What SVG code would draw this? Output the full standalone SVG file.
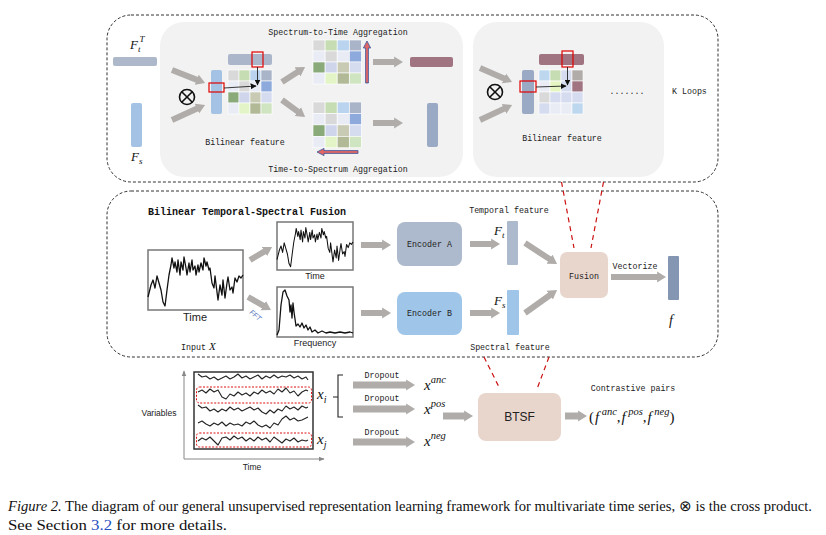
<svg xmlns="http://www.w3.org/2000/svg" xmlns:xlink="http://www.w3.org/1999/xlink" width="826" height="535" viewBox="0 0 826 535">
<style>
.mono{font-family:"Liberation Mono","DejaVu Sans Mono",monospace;font-size:8.3px;fill:#222}
.sans{font-family:"Liberation Sans",Arial,sans-serif;fill:#222}
.math{font-family:"Liberation Serif","Times New Roman",serif;font-style:italic;fill:#111}
.dash{fill:none;stroke:#333;stroke-width:1;stroke-dasharray:3 2}
.panel{fill:#f2f2f2}
.fat{stroke:#b0acaa;stroke-width:6;fill:none;marker-end:url(#fatHead)}
.thin{stroke:#222;stroke-width:0.9;fill:none;marker-end:url(#thinHead)}
.red{fill:none;stroke:#e00000;stroke-width:1.2}
.rdash{stroke:#cc1111;stroke-width:1.2;stroke-dasharray:5 4;fill:none}
.wave{fill:none;stroke:#111;stroke-width:1.3;stroke-linejoin:round}
.ser{fill:none;stroke:#222;stroke-width:1.1;stroke-linejoin:round}
.plot{fill:#fff;stroke:#777;stroke-width:1.5}
.cell{stroke:#fff;stroke-width:0.6}
</style>
<defs>
<marker id="fatHead" markerUnits="userSpaceOnUse" viewBox="0 0 10 12" markerWidth="9" markerHeight="12" refX="1" refY="6" orient="auto"><path d="M0,0 L10,6 L0,12 z" fill="#b0acaa"/></marker>
<marker id="thinHead" markerUnits="userSpaceOnUse" viewBox="0 0 10 10" markerWidth="6" markerHeight="6" refX="9" refY="5" orient="auto"><path d="M0,0 L10,5 L0,10 z" fill="#111"/></marker>
<marker id="axHead" markerUnits="userSpaceOnUse" viewBox="0 0 10 10" markerWidth="6" markerHeight="6" refX="9" refY="5" orient="auto"><path d="M0,1 L10,5 L0,9 z" fill="#888"/></marker>
<g id="matA">
<rect class="cell" x="0" y="0" width="11" height="11" fill="#d9d9d9"/><rect class="cell" x="11" y="0" width="11" height="11" fill="#c6dcb2"/><rect class="cell" x="22" y="0" width="11" height="11" fill="#bad3ee"/><rect class="cell" x="33" y="0" width="11" height="11" fill="#aab4c8"/>
<rect class="cell" x="0" y="11" width="11" height="11" fill="#e9ebf5"/><rect class="cell" x="11" y="11" width="11" height="11" fill="#d9d9d9"/><rect class="cell" x="22" y="11" width="11" height="11" fill="#e9ebf5"/><rect class="cell" x="33" y="11" width="11" height="11" fill="#8eaadc"/>
<rect class="cell" x="0" y="22" width="11" height="11" fill="#8aaa7a"/><rect class="cell" x="11" y="22" width="11" height="11" fill="#cfd6ec"/><rect class="cell" x="22" y="22" width="11" height="11" fill="#c9cab4"/><rect class="cell" x="33" y="22" width="11" height="11" fill="#d6dcef"/>
<rect class="cell" x="0" y="33" width="11" height="11" fill="#e9ebf5"/><rect class="cell" x="11" y="33" width="11" height="11" fill="#e3f5c6"/><rect class="cell" x="22" y="33" width="11" height="11" fill="#b1b997"/><rect class="cell" x="33" y="33" width="11" height="11" fill="#cfe4c0"/>
</g>
<g id="matB">
<rect class="cell" x="0" y="0" width="11" height="11" fill="#bdd7ee"/><rect class="cell" x="11" y="0" width="11" height="11" fill="#c6dcb2"/><rect class="cell" x="22" y="0" width="11" height="11" fill="#d6dcef"/><rect class="cell" x="33" y="0" width="11" height="11" fill="#b1aca9"/>
<rect class="cell" x="0" y="11" width="11" height="11" fill="#e9ebf5"/><rect class="cell" x="11" y="11" width="11" height="11" fill="#e6f6c2"/><rect class="cell" x="22" y="11" width="11" height="11" fill="#d6dcef"/><rect class="cell" x="33" y="11" width="11" height="11" fill="#a07480"/>
<rect class="cell" x="0" y="22" width="11" height="11" fill="#d9d9d9"/><rect class="cell" x="11" y="22" width="11" height="11" fill="#d6dcef"/><rect class="cell" x="22" y="22" width="11" height="11" fill="#d6dcef"/><rect class="cell" x="33" y="22" width="11" height="11" fill="#d6dcef"/>
<rect class="cell" x="0" y="33" width="11" height="11" fill="#d6dcef"/><rect class="cell" x="11" y="33" width="11" height="11" fill="#e9ebf5"/><rect class="cell" x="22" y="33" width="11" height="11" fill="#e9ebf5"/><rect class="cell" x="33" y="33" width="11" height="11" fill="#bdd7ee"/>
</g>
<g id="otimes"><circle cx="0" cy="0" r="7.5" fill="none" stroke="#111" stroke-width="1.6"/><path d="M-5.3,-5.3 L5.3,5.3 M5.3,-5.3 L-5.3,5.3" stroke="#111" stroke-width="1.6"/></g>
<polyline id="sig" points="148,297 151,285 153,280 155,288 157,276 159,283 161,290 163,302 165,306 167,290 169,275 171,265 172,258 174,268 175,262 177,272 178,260 180,275 181,262 183,270 184,257 186,268 187,275 189,263 190,272 192,260 193,270 195,266 196,275 198,265 199,272 201,263 203,270 204,258 206,266 207,262 209,270 210,268 212,283 214,288 215,276 217,292 218,300 220,285 222,295 223,280 225,298 227,283 228,277 230,290 232,287 233,293 235,278 237,282 239,276 241,278 243,275"/>
</defs>

<!-- Background containers -->
<g id="loop-container">
<rect class="dash" x="107" y="15" width="611" height="167" rx="24"/>
<rect class="panel" x="160" y="22" width="303" height="155" rx="24"/>
<rect class="panel" x="473" y="22" width="191" height="155" rx="24"/>
</g>
<g id="fusion-container">
<rect class="dash" x="107" y="191" width="611" height="166" rx="24"/>
<text x="148" y="215" style="font-family:'Liberation Mono','DejaVu Sans Mono',monospace;font-size:10px;font-weight:bold;fill:#111">Bilinear Temporal-Spectral Fusion</text>
</g>

<!-- Top loop nodes -->
<g id="ft-transpose">
<rect x="113" y="57" width="44" height="9" rx="2" fill="#adb8ca"/>
<text class="math" x="130" y="49" font-size="13">F<tspan font-size="9" dy="3">t</tspan><tspan font-size="9" dx="-1" dy="-10">T</tspan></text>
</g>
<g id="fs-input">
<rect x="131" y="103" width="11" height="44" rx="2" fill="#a4c2e4"/>
<text class="math" x="131" y="161" font-size="13">F<tspan font-size="9" dy="3">s</tspan></text>
</g>
<g id="cross-1"><use xlink:href="#otimes" x="187" y="97"/></g>
<g id="bilinear-1">
<rect x="211" y="70" width="11" height="44" rx="2" fill="#a4c2e4"/>
<rect x="228" y="54" width="44" height="11" rx="2" fill="#acb6ca"/>
<use xlink:href="#matA" x="228" y="70"/>
<rect class="red" x="252" y="52" width="11" height="15"/>
<rect class="red" x="209" y="83" width="15" height="9"/>
<text class="mono" x="245" y="145" text-anchor="middle">Bilinear feature</text>
</g>
<g id="spectrum-to-time">
<text class="mono" x="338" y="35" text-anchor="middle">Spectrum-to-Time Aggregation</text>
<use xlink:href="#matA" transform="translate(313,40) scale(1.1,1)"/>
<path d="M365.6,83 L368.4,83 L368.4,48 L370.6,48 L367,41 L363.4,48 L365.6,48 z" fill="#e06666" stroke="#33549a" stroke-width="0.8"/>
</g>
<g id="time-to-spectrum">
<use xlink:href="#matA" transform="translate(313,102) scale(1.1,1.04)"/>
<path d="M358,150.6 L358,153.4 L324,153.4 L324,155.6 L317,152 L324,148.4 L324,150.6 z" fill="#e06666" stroke="#33549a" stroke-width="0.8"/>
<text class="mono" x="338" y="172" text-anchor="middle">Time-to-Spectrum Aggregation</text>
</g>
<g id="agg-time-out"><rect x="410" y="57" width="43" height="10" rx="2" fill="#a07480"/></g>
<g id="agg-spec-out"><rect x="427" y="103" width="11" height="44" rx="2" fill="#9aaac4"/></g>
<g id="cross-2"><use xlink:href="#otimes" x="495" y="92"/></g>
<g id="bilinear-2">
<rect x="522" y="70" width="12" height="44" rx="2" fill="#9aaac4"/>
<rect x="539" y="54" width="45" height="11" rx="2" fill="#a07480"/>
<use xlink:href="#matB" x="539" y="70"/>
<rect class="red" x="562" y="51" width="11" height="16"/>
<rect class="red" x="520" y="81" width="16" height="11"/>
<text class="mono" x="562" y="141" text-anchor="middle">Bilinear feature</text>
</g>
<g id="k-loops">
<text class="mono" x="627" y="94" text-anchor="middle">.......</text>
<text class="mono" x="672" y="94">K Loops</text>
</g>

<!-- Middle fusion nodes -->
<g id="input-plot">
<rect class="plot" x="148" y="250" width="95" height="60"/>
<use xlink:href="#sig" class="wave"/>
<text class="sans" x="195" y="321" font-size="11" text-anchor="middle">Time</text>
<text class="mono" x="181" y="350">Input</text>
<text class="math" x="209" y="350" font-size="11">X</text>
</g>
<g id="time-plot">
<rect class="plot" x="277" y="222" width="76" height="48"/>
<use xlink:href="#sig" class="wave" transform="translate(277,222) scale(0.8) translate(-148,-250)" style="vector-effect:non-scaling-stroke"/>
<text class="sans" x="315" y="279" font-size="9" text-anchor="middle">Time</text>
</g>
<g id="freq-plot">
<rect class="plot" x="277" y="287" width="76" height="50"/>
<polyline class="wave" points="277,335 279,330 281,305 283,292 285,290 287,296 289,300 290,312 291,305 292,318 293,303 294,312 296,326 298,324 300,327 302,323 304,328 306,325 308,330 310,327 312,332 315,330 318,333 322,331 326,333 330,332 335,333 340,332 345,333 350,332 353,333"/>
<text class="sans" x="315" y="346" font-size="9" text-anchor="middle">Frequency</text>
</g>
<g id="encoder-a">
<rect x="397" y="222" width="65" height="44" rx="8" fill="#adb9cc"/>
<text class="mono" x="429.5" y="247" text-anchor="middle">Encoder A</text>
</g>
<g id="encoder-b">
<rect x="397" y="292" width="65" height="43" rx="8" fill="#9fc5e8"/>
<text class="mono" x="429.5" y="316" text-anchor="middle">Encoder B</text>
</g>
<g id="temporal-feature">
<text class="mono" x="509" y="213" text-anchor="middle">Temporal feature</text>
<text class="math" x="494" y="235" font-size="13">F<tspan font-size="9" dy="3">t</tspan></text>
<rect x="507" y="221" width="11" height="44" rx="1" fill="#adb9cc"/>
</g>
<g id="spectral-feature">
<text class="math" x="494" y="305" font-size="13">F<tspan font-size="9" dy="3">s</tspan></text>
<rect x="507" y="290" width="12" height="45" rx="1" fill="#9fc5e8"/>
<text class="mono" x="510" y="350" text-anchor="middle">Spectral feature</text>
</g>
<g id="fusion">
<rect x="560" y="252" width="48" height="46" rx="7" fill="#e8d5cc"/>
<text class="mono" x="584" y="279" text-anchor="middle">Fusion</text>
</g>
<g id="vector-f">
<text class="mono" x="635" y="269" text-anchor="middle">Vectorize</text>
<rect x="668" y="256" width="11" height="44" rx="1" fill="#8496b2"/>
<text class="math" x="669" y="325" font-size="14">f</text>
</g>

<!-- Bottom nodes -->
<g id="mts-plot">
<line x1="184" y1="459" x2="184" y2="371" stroke="#888" stroke-width="1" marker-end="url(#axHead)"/>
<line x1="184" y1="459" x2="324" y2="459" stroke="#888" stroke-width="1" marker-end="url(#axHead)"/>
<text class="sans" x="159" y="416" font-size="8.5" text-anchor="middle">Variables</text>
<text class="sans" x="252" y="470" font-size="8.5" text-anchor="middle">Time</text>
<rect x="194" y="372" width="119" height="77" fill="#fff" stroke="#333" stroke-width="1.5"/>
<rect x="196.5" y="387" width="115" height="16" rx="3" fill="none" stroke="#d11" stroke-width="1" stroke-dasharray="2 1.5"/>
<rect x="196.5" y="433" width="115" height="14" rx="3" fill="none" stroke="#d11" stroke-width="1" stroke-dasharray="2 1.5"/>
<polyline class="ser" points="198,374 202,377 206,376 210,379 214,377 218,380 222,378 226,376 230,379 234,377 238,374 242,378 246,376 250,379 254,377 258,375 262,379 266,376 270,378 274,375 278,378 282,376 286,377 290,375 294,378 298,376 302,379 306,377 308,380"/>
<polyline class="ser" points="198,392 202,390 206,393 210,389 214,392 218,390 222,397 226,399 230,394 234,396 238,392 242,395 246,393 250,396 254,392 258,394 262,390 266,393 270,391 274,394 278,389 282,392 286,388 290,393 294,391 298,396 302,392 306,390 308,391"/>
<polyline class="ser" points="198,405 202,408 206,407 210,411 214,409 218,412 222,409 226,411 230,407 234,410 238,408 242,411 246,409 250,407 254,410 258,408 262,412 266,414 270,410 274,413 278,409 282,411 286,406 290,409 294,407 298,410 302,406 306,408 308,407"/>
<polyline class="ser" points="198,423 202,421 206,424 210,426 214,423 218,425 222,422 226,426 230,423 234,425 238,424 242,426 246,422 250,424 254,421 258,425 262,427 266,425 270,428 274,423 278,425 282,419 286,416 290,420 294,418 298,421 302,420 306,418 308,417"/>
<polyline class="ser" points="198,441 202,438 206,440 210,437 214,441 218,445 222,438 226,437 230,440 234,436 238,439 242,437 246,441 250,438 254,441 258,437 262,440 266,438 270,442 274,437 278,440 282,443 286,439 290,441 294,438 298,442 302,440 306,441 308,440"/>
<text class="math" x="317" y="399" font-size="15">x<tspan font-size="10" dy="4">i</tspan></text>
<text class="math" x="317" y="444" font-size="15">x<tspan font-size="10" dy="4">j</tspan></text>
<path d="M343,375 L338,375 L338,417 L343,417 M338,397 L333,397" fill="none" stroke="#222" stroke-width="1.1"/>
</g>
<g id="views">
<text class="mono" x="382" y="378" text-anchor="middle">Dropout</text>
<text class="mono" x="382" y="401" text-anchor="middle">Dropout</text>
<text class="mono" x="382" y="435" text-anchor="middle">Dropout</text>
<text class="math" x="424" y="390" font-size="15">x<tspan font-size="10.5" dy="-7">anc</tspan></text>
<text class="math" x="424" y="414" font-size="15">x<tspan font-size="10.5" dy="-7">pos</tspan></text>
<text class="math" x="424" y="446" font-size="15">x<tspan font-size="10.5" dy="-7">neg</tspan></text>
</g>
<g id="btsf">
<rect x="478" y="393" width="83" height="48" rx="8" fill="#e8d5cc"/>
<text class="sans" x="519.5" y="421" font-size="12" text-anchor="middle">BTSF</text>
</g>
<g id="contrastive-pairs">
<text class="mono" x="633" y="391" text-anchor="middle">Contrastive pairs</text>
<text class="math" x="589" y="422" font-size="15"><tspan font-style="normal">(</tspan><tspan dx="1">f</tspan><tspan font-size="10.5" dx="2.5" dy="-7">anc</tspan><tspan dy="7" font-style="normal">,</tspan><tspan dx="1">f</tspan><tspan font-size="10.5" dx="2.5" dy="-7">pos</tspan><tspan dy="7" font-style="normal">,</tspan><tspan dx="1">f</tspan><tspan font-size="10.5" dx="2.5" dy="-7">neg</tspan><tspan dy="7" font-style="normal">)</tspan></text>
</g>

<!-- Connectors -->
<g id="connectors">
<line class="fat" x1="172" y1="70" x2="197.6" y2="80.1"/>
<line class="fat" x1="172" y1="120" x2="197.7" y2="108.3"/>
<line class="thin" x1="224" y1="88" x2="256" y2="86"/>
<line class="thin" x1="257.5" y1="67" x2="257.5" y2="85"/>
<line class="fat" x1="282" y1="82" x2="298.3" y2="71.4"/>
<line class="fat" x1="282" y1="100" x2="298.6" y2="112.2"/>
<line class="fat" x1="373" y1="62" x2="395" y2="62"/>
<line class="fat" x1="373" y1="123" x2="395" y2="123"/>
<line class="fat" x1="480" y1="68" x2="504.7" y2="78.8"/>
<line class="fat" x1="480" y1="120" x2="504.8" y2="108.4"/>
<line class="thin" x1="536" y1="87" x2="566" y2="86"/>
<line class="thin" x1="567.5" y1="67" x2="567.5" y2="85"/>
<line class="rdash" x1="561.5" y1="182" x2="574" y2="248"/>
<line class="rdash" x1="603.5" y1="182" x2="591" y2="248"/>
<line class="fat" x1="250" y1="260" x2="265.1" y2="251.1"/>
<line class="fat" x1="248" y1="297" x2="264" y2="306.1"/>
<text x="249" y="313" transform="rotate(40 249 313)" style="font-family:'Liberation Sans',sans-serif;font-size:7px;font-style:italic;fill:#3a62b0">FFT</text>
<line class="fat" x1="361" y1="245" x2="383" y2="245"/>
<line class="fat" x1="361" y1="313" x2="383" y2="313"/>
<line class="fat" x1="470" y1="244" x2="492" y2="244"/>
<line class="fat" x1="470" y1="313" x2="492" y2="313"/>
<line class="fat" x1="525" y1="243" x2="550.3" y2="259.6"/>
<line class="fat" x1="525" y1="313" x2="550.5" y2="294.7"/>
<line class="fat" x1="611" y1="277" x2="658" y2="277"/>
<line class="rdash" x1="484" y1="357" x2="500" y2="389"/>
<line class="rdash" x1="549" y1="357" x2="537" y2="389"/>
<line class="fat" x1="353" y1="385" x2="407" y2="385" style="stroke-width:7"/>
<line class="fat" x1="353" y1="409" x2="407" y2="409" style="stroke-width:7"/>
<line class="fat" x1="353" y1="442" x2="407" y2="442" style="stroke-width:7"/>
<line class="fat" x1="443" y1="416" x2="465" y2="416" style="stroke-width:7"/>
<line class="fat" x1="565" y1="416" x2="579" y2="416" style="stroke-width:7"/>
</g>

<!-- Caption -->
<g id="caption" style="font-family:'Liberation Serif','Times New Roman',serif;font-size:14.5px;fill:#111">
<text x="8" y="511" textLength="804" lengthAdjust="spacingAndGlyphs"><tspan font-style="italic">Figure 2.</tspan> The diagram of our general unsupervised representation learning framework for multivariate time series, ⊗ is the cross product.</text>
<text x="8" y="530" textLength="219" lengthAdjust="spacingAndGlyphs">See Section <tspan fill="#1f4fbf">3.2</tspan> for more details.</text>
</g>
</svg>
